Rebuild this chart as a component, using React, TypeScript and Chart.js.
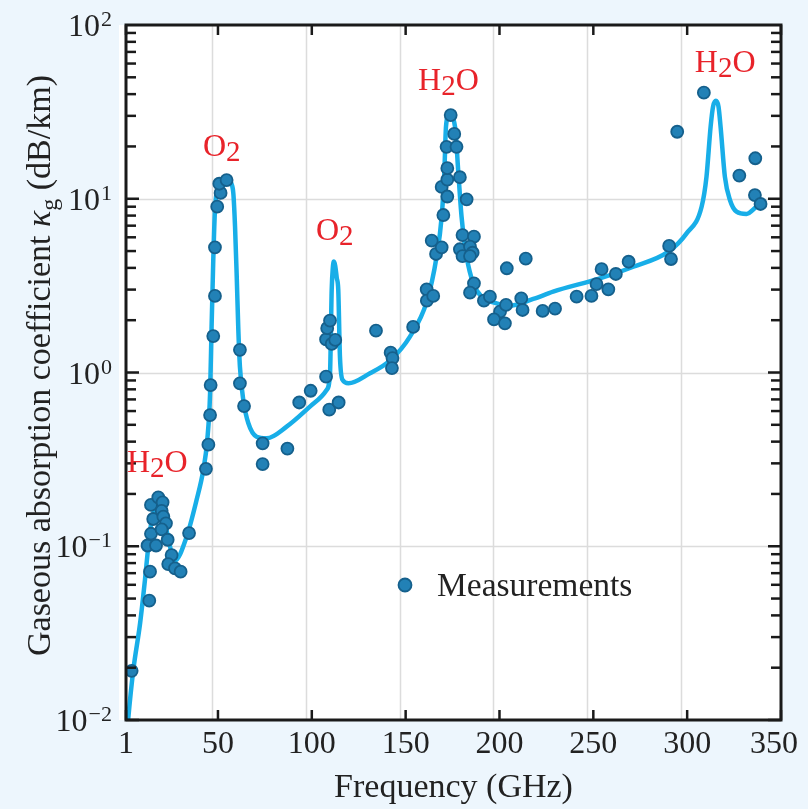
import React, { useEffect, useRef } from 'react';
import { Chart, registerables } from 'chart.js';

Chart.register(...registerables);

// ---- Data (frequency in GHz, attenuation in dB/km) ----
const curveFreq = [1.8, 2.2, 4.9, 8.5, 11.1, 12.9, 14.7, 17.3, 19.5, 22.5, 27.1, 33.3, 38.6, 42.2, 44.3, 45.8, 46.6, 47.5, 48.4, 50.2, 52.5, 55.5, 57.2, 58.2, 59.1, 60.0, 60.8, 61.7, 63.5, 66.2, 70.6, 75.9, 86.6, 99.0, 107.9, 109.7, 110.6, 111.2, 111.8, 112.5, 113.3, 114.1, 115.0, 116.4, 119.5, 131.0, 141.6, 152.3, 161.2, 166.5, 169.2, 170.6, 171.5, 173.2, 176.3, 178.1, 179.8, 182.5, 186.0, 190.5, 198.5, 205.0, 218.0, 228.6, 253.5, 271.3, 290.0, 299.7, 307.7, 310.3, 312.5, 313.8, 315.3, 316.7, 317.8, 320.1, 322.8, 326.3, 331.6, 337.0, 339.1];
const curveVal = [0.009, 0.0102, 0.0194, 0.036, 0.064, 0.1, 0.142, 0.173, 0.178, 0.125, 0.083, 0.1135, 0.1845, 0.275, 0.409, 0.758, 1.83, 4.44, 8.61, 11.7, 12.8, 12.9, 12.2, 10.7, 6.9, 3.56, 1.83, 1.08, 0.695, 0.51, 0.427, 0.418, 0.488, 0.636, 0.793, 0.99, 2.99, 4.0, 4.35, 4.1, 3.5, 2.99, 1.23, 0.906, 0.867, 0.99, 1.17, 1.61, 2.55, 4.64, 7.88, 14.0, 26.0, 30.7, 26.0, 14.0, 7.88, 4.64, 3.26, 2.73, 2.5, 2.42, 2.65, 2.92, 3.48, 4.06, 4.96, 6.32, 9.0, 13.4, 26.0, 33.9, 36.6, 33.9, 26.0, 13.4, 9.84, 8.43, 8.17, 9.0, 9.33];

const measFreq = [4.0, 13.4, 13.8, 12.5, 17.0, 14.3, 15.5, 14.3, 18.2, 20.5, 20.0, 20.9, 22.3, 20.0, 23.2, 25.3, 23.5, 27.1, 30.1, 34.6, 43.6, 44.9, 45.8, 46.1, 47.5, 48.4, 48.4, 49.6, 51.4, 50.7, 54.6, 61.7, 61.7, 63.9, 73.8, 73.8, 87.0, 93.3, 99.4, 107.6, 109.3, 114.3, 107.6, 110.6, 112.5, 108.2, 109.7, 134.2, 142.0, 143.0, 142.7, 154.0, 161.2, 161.3, 164.7, 163.9, 166.2, 169.2, 170.1, 169.2, 172.2, 172.2, 172.2, 171.8, 177.1, 175.9, 174.0, 178.9, 182.5, 180.3, 186.4, 178.9, 184.3, 185.7, 180.3, 184.3, 186.4, 184.3, 191.7, 194.9, 200.3, 197.1, 203.5, 202.9, 203.9, 214.0, 211.6, 212.3, 223.0, 229.6, 241.1, 249.0, 251.7, 254.4, 258.0, 262.0, 268.8, 290.4, 291.4, 294.7, 308.9, 327.8, 336.3, 336.1, 339.1];
const measVal = [0.0192, 0.0486, 0.0714, 0.101, 0.101, 0.118, 0.1435, 0.173, 0.191, 0.179, 0.16, 0.148, 0.1355, 0.125, 0.109, 0.089, 0.079, 0.0746, 0.0714, 0.119, 0.279, 0.384, 0.569, 0.847, 1.62, 2.76, 5.25, 9.0, 10.8, 12.2, 12.8, 1.35, 0.866, 0.641, 0.391, 0.297, 0.365, 0.672, 0.785, 0.946, 0.611, 0.672, 1.55, 1.46, 1.54, 1.8, 1.99, 1.74, 1.3, 1.21, 1.06, 1.83, 3.01, 2.59, 2.76, 5.74, 4.81, 5.25, 8.06, 11.7, 10.3, 12.9, 15.0, 19.9, 19.9, 23.6, 30.3, 13.3, 9.93, 6.18, 6.05, 5.12, 5.3, 4.89, 4.68, 4.68, 3.26, 2.88, 2.59, 2.73, 2.24, 2.02, 2.45, 1.92, 3.98, 4.52, 2.67, 2.29, 2.26, 2.33, 2.73, 2.76, 3.23, 3.93, 3.01, 3.69, 4.34, 5.35, 4.5, 24.3, 40.8, 13.6, 17.1, 10.5, 9.33];

const xTickValues = [1, 50, 100, 150, 200, 250, 300, 350];
const xGridValues = [50, 100, 150, 200, 250, 300];
const yTickExponents = [-2, -1, 0, 1, 2];
const yGridValues = [0.1, 1, 10];

// Annotation labels: main letter, subscript, tail, anchor (freq, value)
const labelMain = ['H', 'O', 'O', 'H', 'H'];
const labelSub = ['2', '2', '2', '2', '2'];
const labelTail = ['O', '', '', 'O', 'O'];
const labelFreq = [1.5, 42.0, 102.2, 156.6, 304.1];
const labelVal = [0.2675, 17.6, 5.79, 42.3, 53.6];

const legendText = 'Measurements';
const xTitle = 'Frequency (GHz)';

const SERIF = '"Liberation Serif", "Times New Roman", serif';
const POINT_FILL = '#2281b6';
const POINT_BORDER = '#15608c';
const LINE_COLOR = '#18aee8';
const TEXT = '#222222';
const RED = '#e8232a';
const GRID_SHIFT = -6;

const framePlugin = {
  id: 'framePlugin',
  beforeDatasetsDraw(chart: any) {
    const { ctx, chartArea: a, scales } = chart;
    ctx.save();
    ctx.fillStyle = '#ffffff';
    ctx.fillRect(a.left - 7, a.top, a.right - a.left + 7, a.bottom - a.top);
    ctx.strokeStyle = '#dcdcdc';
    ctx.lineWidth = 1.5;
    xGridValues.forEach((v) => {
      const x = Math.round(scales.x.getPixelForValue(v) + GRID_SHIFT) + 0.5;
      ctx.beginPath();
      ctx.moveTo(x, a.top);
      ctx.lineTo(x, a.bottom);
      ctx.stroke();
    });
    yGridValues.forEach((v) => {
      const y = Math.round(scales.y.getPixelForValue(v)) + 0.5;
      ctx.beginPath();
      ctx.moveTo(a.left, y);
      ctx.lineTo(a.right, y);
      ctx.stroke();
    });
    ctx.restore();
  },
  afterDraw(chart: any) {
    const { ctx, chartArea: a, scales } = chart;
    const xs = scales.x;
    const ys = scales.y;
    ctx.save();
    ctx.strokeStyle = '#1a1a1a';
    ctx.fillStyle = '#1a1a1a';
    ctx.lineWidth = 2.5;
    const seg = (x1: number, y1: number, x2: number, y2: number) => {
      ctx.beginPath();
      ctx.moveTo(x1, y1);
      ctx.lineTo(x2, y2);
      ctx.stroke();
    };
    xTickValues.forEach((v) => {
      const x = xs.getPixelForValue(v);
      seg(x, a.bottom, x, a.bottom - 10);
      seg(x, a.top, x, a.top + 10);
    });
    for (let e = -2; e < 2; e++) {
      for (let m = 1; m <= 9; m++) {
        const v = m * Math.pow(10, e);
        const y = ys.getPixelForValue(v);
        const len = m === 1 ? 13 : 10;
        seg(a.left, y, a.left + len, y);
        seg(a.right, y, a.right - len, y);
      }
    }
    ctx.lineWidth = 3;
    ctx.strokeRect(a.left, a.top, a.right - a.left, a.bottom - a.top);

    // x tick labels
    ctx.fillStyle = TEXT;
    ctx.font = `32px ${SERIF}`;
    ctx.textAlign = 'center';
    ctx.textBaseline = 'alphabetic';
    xTickValues.forEach((v, i) => {
      const shift = i === xTickValues.length - 1 ? -7 : 0;
      ctx.fillText(String(v), xs.getPixelForValue(v) + shift, a.bottom + 33);
    });

    // y tick labels 10^n
    yTickExponents.forEach((e) => {
      const y = ys.getPixelForValue(Math.pow(10, e));
      const sup = e < 0 ? '\u2212' + Math.abs(e) : String(e);
      const right = a.left - 14;
      ctx.textAlign = 'right';
      ctx.font = `22px ${SERIF}`;
      const sw = ctx.measureText(sup).width;
      ctx.fillText(sup, right, y + 1);
      ctx.font = `32px ${SERIF}`;
      ctx.fillText('10', right - sw - 1, y + 11);
    });

    // x title
    ctx.textAlign = 'center';
    ctx.font = `34px ${SERIF}`;
    ctx.fillText(xTitle, (a.left + a.right) / 2, a.bottom + 77);

    // y title (rotated, italic kappa, subscript g)
    const parts = [
      { t: 'Gaseous absorption coefficient ', f: `34px ${SERIF}`, dy: 0 },
      { t: '\u03BA', f: `italic 34px ${SERIF}`, dy: 0 },
      { t: 'g', f: `24px ${SERIF}`, dy: 7 },
      { t: ' (dB/km)', f: `34px ${SERIF}`, dy: 0 },
    ];
    let total = 0;
    parts.forEach((p) => {
      ctx.font = p.f;
      total += ctx.measureText(p.t).width;
    });
    ctx.save();
    ctx.translate(50, (a.top + a.bottom) / 2 - 7);
    ctx.rotate(-Math.PI / 2);
    ctx.textAlign = 'left';
    let cx = -total / 2;
    parts.forEach((p) => {
      ctx.font = p.f;
      ctx.fillText(p.t, cx, p.dy);
      cx += ctx.measureText(p.t).width;
    });
    ctx.restore();

    // annotations
    ctx.fillStyle = RED;
    ctx.textAlign = 'left';
    labelMain.forEach((m, i) => {
      let x = xs.getPixelForValue(labelFreq[i]);
      const y = ys.getPixelForValue(labelVal[i]);
      ctx.font = `32px ${SERIF}`;
      ctx.fillText(m, x, y);
      x += ctx.measureText(m).width;
      ctx.font = `29px ${SERIF}`;
      ctx.fillText(labelSub[i], x, y + 5);
      x += ctx.measureText(labelSub[i]).width;
      if (labelTail[i]) {
        ctx.font = `32px ${SERIF}`;
        ctx.fillText(labelTail[i], x, y);
      }
    });

    // legend
    const lx = a.left + 279;
    const ly = a.top + 560;
    ctx.beginPath();
    ctx.arc(lx, ly, 6.5, 0, Math.PI * 2);
    ctx.fillStyle = POINT_FILL;
    ctx.fill();
    ctx.lineWidth = 1.8;
    ctx.strokeStyle = POINT_BORDER;
    ctx.stroke();
    ctx.fillStyle = TEXT;
    ctx.font = `33.5px ${SERIF}`;
    ctx.textAlign = 'left';
    ctx.fillText(legendText, lx + 32, ly + 11);

    ctx.restore();
  },
};

export default function App() {
  const ref = useRef<HTMLCanvasElement | null>(null);
  useEffect(() => {
    if (!ref.current) return;
    const chart = new Chart(ref.current, {
      type: 'line',
      data: {
        datasets: [
          {
            label: legendText,
            data: measFreq.map((f, i) => ({ x: f, y: measVal[i] })),
            showLine: false,
            pointRadius: 6,
            pointBackgroundColor: POINT_FILL,
            pointBorderColor: POINT_BORDER,
            pointBorderWidth: 1.8,
            order: 0,
          },
          {
            label: 'Model',
            data: curveFreq.map((f, i) => ({ x: f, y: curveVal[i] })),
            borderColor: LINE_COLOR,
            borderWidth: 4.5,
            pointRadius: 0,
            cubicInterpolationMode: 'monotone',
            fill: false,
            order: 1,
          },
        ],
      },
      options: {
        animation: false,
        responsive: false,
        devicePixelRatio: 1,
        layout: { padding: { left: 126, top: 25, right: 27, bottom: 89 } },
        plugins: { legend: { display: false }, tooltip: { enabled: false } },
        scales: {
          x: { type: 'linear', min: 1, max: 350, display: false },
          y: { type: 'logarithmic', min: 0.01, max: 100, display: false },
        },
      },
      plugins: [framePlugin],
    } as any);
    return () => chart.destroy();
  }, []);
  return (
    <div style={{ position: 'fixed', left: 0, top: 0, width: 808, height: 809, background: '#edf6fd' }}>
      <canvas ref={ref} width={808} height={809} style={{ display: 'block' }} />
    </div>
  );
}
